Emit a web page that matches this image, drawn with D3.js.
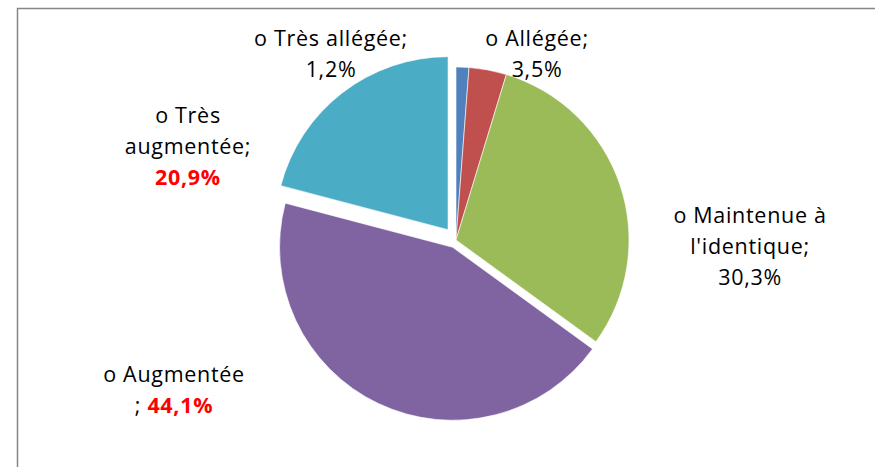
<!DOCTYPE html>
<html>
<head>
<meta charset="utf-8">
<script src="https://cdn.jsdelivr.net/npm/d3@7"></script>
<style>
  body { margin: 0; background: #fff; }
  text { font-family: "Open Sans", Lato, sans-serif; font-size: 21.5px; letter-spacing: 0.7px; fill: #000; }
  .hi { fill: #ff0000; font-weight: bold; }
</style>
</head>
<body>
<div id="chart"></div>
<script>
// slice order, clockwise from 12 o'clock
var categories = ['Très allégée', 'Allégée', "Maintenue à l'identique", 'Augmentée', 'Très augmentée'];
var values = [1.2, 3.5, 30.3, 44.1, 20.9];
var valueLabels = ['1,2%', '3,5%', '30,3%', '44,1%', '20,9%'];
var highlighted = [false, false, false, true, true];

var colors = ['#4f81bd', '#c0504d', '#9bbb59', '#8064a2', '#4bacc6'];
var explode = [0, 0, 0, 8, 13];

var width = 875, height = 467;
var cx = 456, cy = 240, radius = 173;

var svg = d3.select('#chart').append('svg')
  .attr('width', width)
  .attr('height', height);

// chart frame
svg.append('rect')
  .attr('x', 17.5).attr('y', 8.5)
  .attr('width', width + 10).attr('height', height + 10)
  .attr('fill', 'none')
  .attr('stroke', '#868686')
  .attr('stroke-width', 1.5);

var pie = d3.pie().sort(null).value(function (d) { return d; });
var arc = d3.arc().innerRadius(0).outerRadius(radius);
var arcs = pie(values);

var g = svg.append('g').attr('transform', 'translate(' + cx + ',' + cy + ')');

g.selectAll('path')
  .data(arcs)
  .enter()
  .append('path')
  .attr('d', arc)
  .attr('fill', function (d, i) { return colors[i]; })
  .attr('stroke', '#fff')
  .attr('stroke-width', 0.6)
  .attr('transform', function (d, i) {
    var a = (d.startAngle + d.endAngle) / 2;
    return 'translate(' + (Math.sin(a) * explode[i]) + ',' + (-Math.cos(a) * explode[i]) + ')';
  });

// label layout: lines of each label, with center x and first baseline
var labelLines = [
  ['o Très allégée;', null],
  ['o Allégée;', null],
  ['o Maintenue à', "l'identique;", null],
  ['o Augmentée', '; ', null],
  ['o Très', 'augmentée;', null]
];
var labelPos = [[331, 46], [537, 46], [750, 223], [174, 382], [188, 123]];
var lineStep = 31;

labelLines.forEach(function (lines, i) {
  var t = svg.append('text')
    .attr('text-anchor', 'middle')
    .attr('x', labelPos[i][0])
    .attr('y', labelPos[i][1]);
  var row = 0;
  lines.forEach(function (ln, k) {
    if (ln === null) {
      // value goes on its own line, unless previous line ends with "; "
      var prevInline = k > 0 && lines[k - 1] === '; ';
      var ts = t.append('tspan')
        .text(valueLabels[i])
        .attr('class', highlighted[i] ? 'hi' : null);
      if (!prevInline) {
        ts.attr('x', labelPos[i][0]).attr('dy', row === 0 ? 0 : lineStep);
        row++;
      }
    } else {
      t.append('tspan')
        .attr('x', labelPos[i][0])
        .attr('dy', row === 0 ? 0 : lineStep)
        .text(ln);
      row++;
    }
  });
});
</script>
</body>
</html>
